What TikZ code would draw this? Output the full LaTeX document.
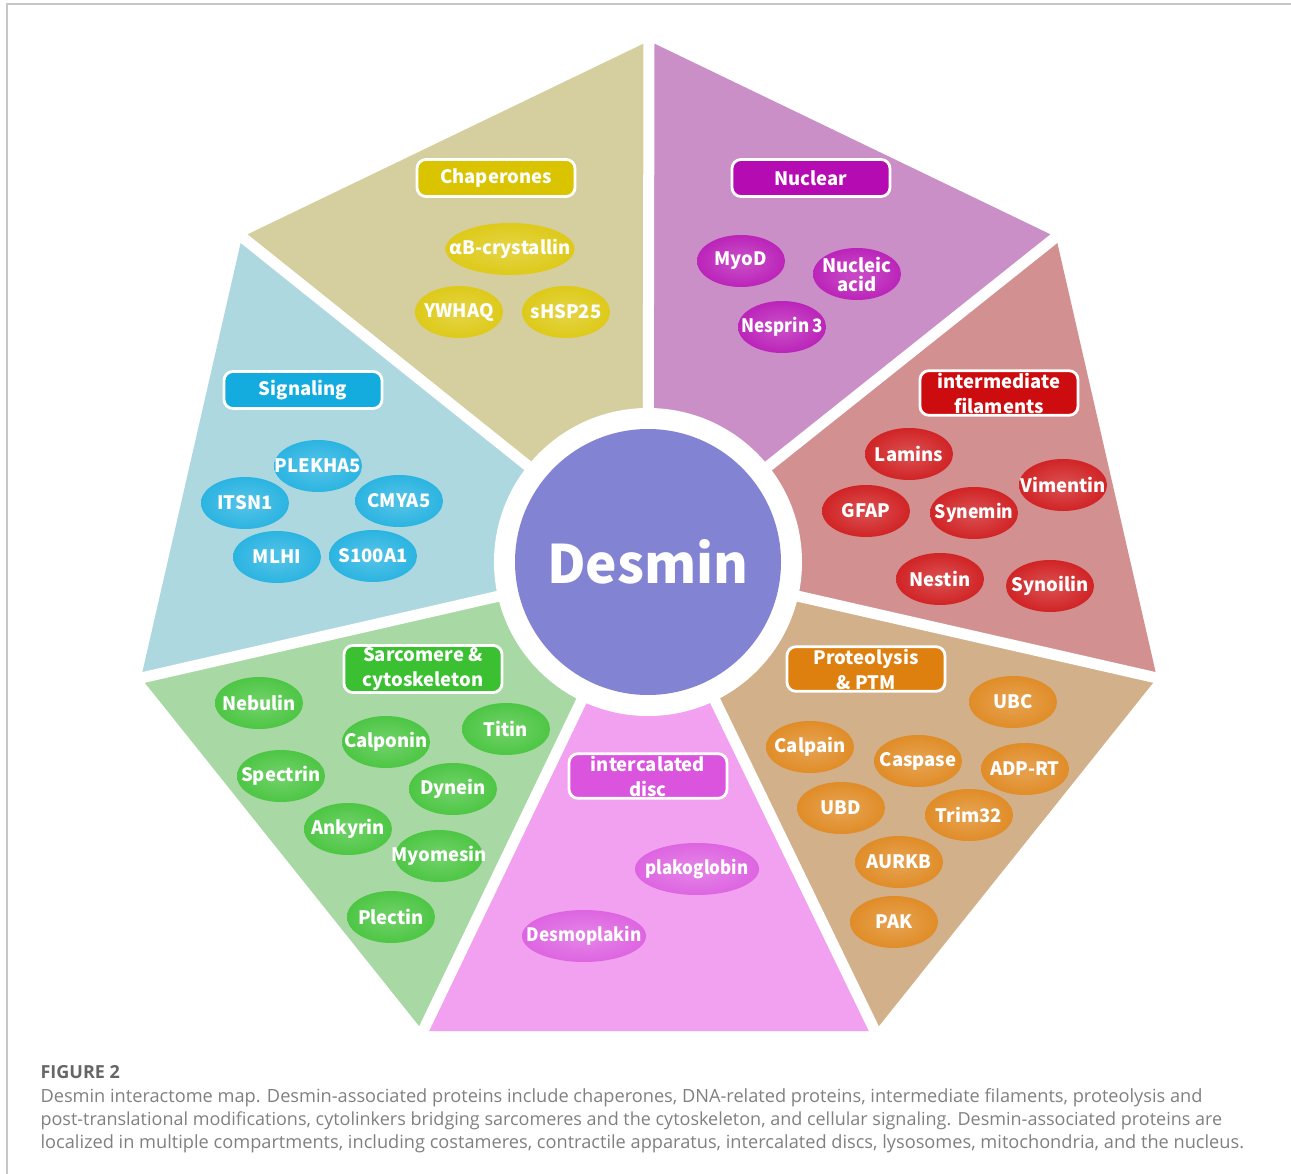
\documentclass[tikz,border=0pt]{standalone}
\usepackage{fontspec}
\setmainfont{Open Sans}
\newfontfamily\labelfont{Noto Sans CJK SC}
\usetikzlibrary{shapes.geometric}

% wedge colours
\definecolor{chapbg}{RGB}{213,207,159}
\definecolor{nucbg}{RGB}{203,143,200}
\definecolor{filbg}{RGB}{210,144,144}
\definecolor{protbg}{RGB}{210,176,138}
\definecolor{discbg}{RGB}{242,160,240}
\definecolor{sarcbg}{RGB}{168,216,164}
\definecolor{sigbg}{RGB}{174,216,224}
% label colours
\definecolor{chapfg}{RGB}{218,196,0}
\definecolor{nucfg}{RGB}{180,12,178}
\definecolor{filfg}{RGB}{204,12,14}
\definecolor{protfg}{RGB}{221,128,16}
\definecolor{discfg}{RGB}{218,84,222}
\definecolor{sarcfg}{RGB}{58,192,48}
\definecolor{sigfg}{RGB}{20,172,222}
\definecolor{desmin}{RGB}{131,131,211}
\definecolor{capgray}{RGB}{128,128,128}

\colorlet{glowin}{white}
\colorlet{glowout}{black}
\pgfdeclareradialshading[glowin,glowout]{glow}{\pgfpoint{0bp}{0bp}}{color(0bp)=(glowin); color(6bp)=(glowin); color(38bp)=(glowout); color(50bp)=(glowout)}

\begin{document}
\begin{tikzpicture}[x=1pt, y=-1pt,
    title/.style={rectangle, rounded corners=9pt, fill=#1, draw=white, line width=2.8pt,
      minimum width=158pt, minimum height=37pt, inner sep=2pt, text=white, align=center,
      font=\labelfont\bfseries\fontsize{18.5}{25}\selectfont},
    protein/.style={ellipse, shading=glow,
      /utils/exec={\colorlet{glowin}{#1!76!white}\colorlet{glowout}{#1}},
      minimum width=88pt, minimum height=52pt, inner xsep=-20pt, inner ysep=0pt,
      text=white, font=\labelfont\bfseries\fontsize{18.5}{19}\selectfont}]

  \useasboundingbox (0,0) rectangle (1291,1174);

  % Frame
  \draw[black!22, line width=1.2pt] (7,1174) -- (7,4) -- (1291,4);

  % Heptagon corners
  \coordinate (O) at (648,562);
  \coordinate (Vt) at (649,41);
  \coordinate (Vur) at (1056,237);
  \coordinate (Vr) at (1157,678);
  \coordinate (Vbr) at (875,1031);
  \coordinate (Vbl) at (423,1031);
  \coordinate (Vl) at (141,678);
  \coordinate (Vul) at (242,237);

  % Wedges
  \fill[chapbg] (O) -- (Vt) -- (Vul) -- cycle;
  \fill[nucbg] (O) -- (Vt) -- (Vur) -- cycle;
  \fill[filbg] (O) -- (Vur) -- (Vr) -- cycle;
  \fill[protbg] (O) -- (Vr) -- (Vbr) -- cycle;
  \fill[discbg] (O) -- (Vbr) -- (Vbl) -- cycle;
  \fill[sarcbg] (O) -- (Vbl) -- (Vl) -- cycle;
  \fill[sigbg] (O) -- (Vl) -- (Vul) -- cycle;

  % White gaps
  \foreach \v in {Vt,Vur,Vr,Vbr,Vbl,Vl,Vul}
    \draw[white, line width=11pt] (O) -- (\v);

  % Centre
  \fill[white] (O) circle (154);
  \node[circle, fill=desmin, minimum size=266pt, text=white,
    font=\labelfont\bfseries\fontsize{53}{53}\selectfont] (desmin) at (O) {Desmin};

  % Chaperones
  \node[title=chapfg] (chap) at (496,178) {Chaperones};
  \node[protein=chapfg, minimum width=129pt] (cryab) at (510,249) {αB-crystallin};
  \node[protein=chapfg] (ywhaq) at (459,312) {YWHAQ};
  \node[protein=chapfg] (hsp) at (566,312) {sHSP25};

  % Nuclear
  \node[title=nucfg] (nuc) at (811,178) {Nuclear};
  \node[protein=nucfg, align=center] (nucl) at (857,274) {Nucleic\\acid};
  \node[protein=nucfg] (myod) at (741,261) {MyoD};
  \node[protein=nucfg] (nesp) at (782,327) {\scalebox{0.92}[1]{Nesprin\,3}};

  % Intermediate filaments
  \node[title=filfg] (fil) at (999,393) {intermediate\\filaments};
  \node[protein=filfg] (lam) at (909,454) {Lamins};
  \node[protein=filfg] (vim) at (1063,485) {Vimentin};
  \node[protein=filfg] (gfap) at (866,511) {GFAP};
  \node[protein=filfg] (syne) at (974,513) {\scalebox{0.95}[1]{Synemin}};
  \node[protein=filfg] (nest) at (940,579) {Nestin};
  \node[protein=filfg] (syno) at (1050,586) {Synoilin};

  % Proteolysis & PTM
  \node[title=protfg] (prot) at (866,669) {Proteolysis\\\& PTM};
  \node[protein=protfg] (ubc) at (1013,702) {UBC};
  \node[protein=protfg] (calp) at (810,747) {Calpain};
  \node[protein=protfg] (casp) at (918,761) {Caspase};
  \node[protein=protfg] (adp) at (1025,769) {ADP-RT};
  \node[protein=protfg] (ubd) at (841,808) {UBD};
  \node[protein=protfg] (trim) at (969,815) {Trim32};
  \node[protein=protfg] (aurkb) at (899,862) {AURKB};
  \node[protein=protfg] (pak) at (894,922) {PAK};

  % Intercalated disc
  \node[title=discfg] (disc) at (648,776) {intercalated\\disc};
  \node[protein=discfg, minimum width=124pt] (plak) at (697,869) {\scalebox{0.92}[1]{plakoglobin}};
  \node[protein=discfg, minimum width=124pt] (desmo) at (584,936) {\scalebox{0.93}[1]{Desmoplakin}};

  % Sarcomere & cytoskeleton
  \node[title=sarcfg] (sarc) at (423,669) {Sarcomere \&\\cytoskeleton};
  \node[protein=sarcfg] (neb) at (259,703) {Nebulin};
  \node[protein=sarcfg] (titin) at (506,729) {Titin};
  \node[protein=sarcfg] (calpo) at (386,742) {Calponin};
  \node[protein=sarcfg] (spec) at (281,776) {Spectrin};
  \node[protein=sarcfg] (dyn) at (453,789) {Dynein};
  \node[protein=sarcfg] (ank) at (348,829) {Ankyrin};
  \node[protein=sarcfg] (myom) at (439,856) {Myomesin};
  \node[protein=sarcfg] (plec) at (391,917) {Plectin};

  % Signaling
  \node[title=sigfg] (sig) at (303,390) {Signaling};
  \node[protein=sigfg] (plek) at (318,466) {PLEKHA5};
  \node[protein=sigfg] (itsn) at (245,503) {ITSN1};
  \node[protein=sigfg] (cmya) at (399,501) {CMYA5};
  \node[protein=sigfg] (mlhi) at (277,557) {MLHI};
  \node[protein=sigfg] (s100) at (373,556) {S100A1};

  % Caption
  \node[anchor=base west, text=black!60, font=\bfseries\fontsize{18}{20}\selectfont] (fig) at (37,1078) {FIGURE 2};
  \node[anchor=base west, text=capgray, font=\fontsize{18.2}{20}\selectfont] (cap1) at (37,1102) {Desmin interactome map. Desmin-associated proteins include chaperones, DNA-related proteins, intermediate filaments, proteolysis and};
  \node[anchor=base west, text=capgray, font=\fontsize{18}{20}\selectfont] (cap2) at (37,1125) {post-translational modifications, cytolinkers bridging sarcomeres and the cytoskeleton, and cellular signaling. Desmin-associated proteins are};
  \node[anchor=base west, text=capgray, font=\fontsize{18.2}{20}\selectfont] (cap3) at (37,1148) {localized in multiple compartments, including costameres, contractile apparatus, intercalated discs, lysosomes, mitochondria, and the nucleus.};

\end{tikzpicture}
\end{document}
